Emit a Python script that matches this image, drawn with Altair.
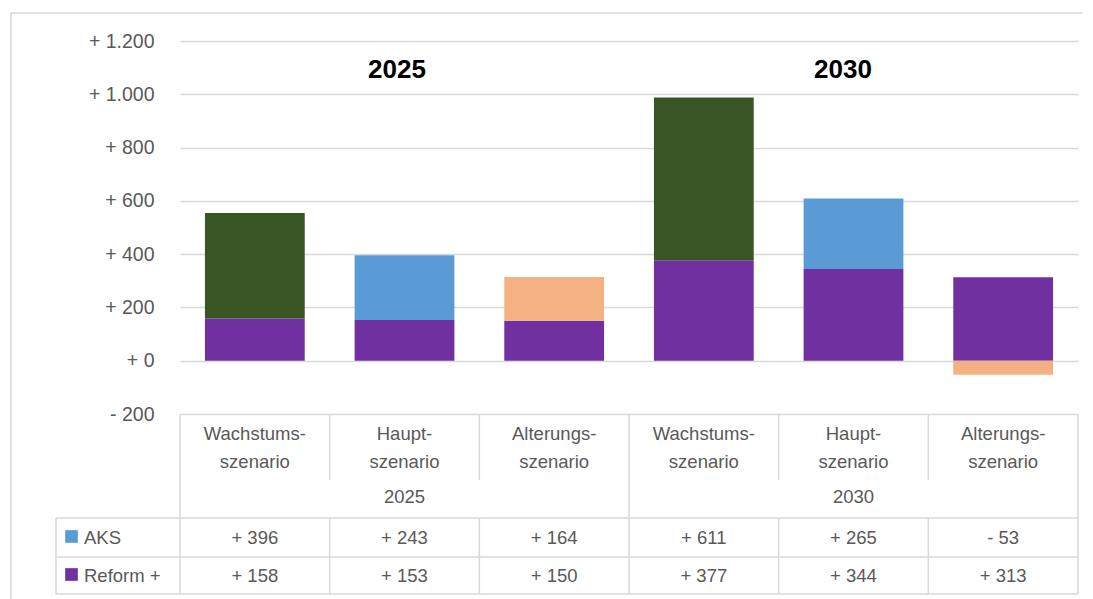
import altair as alt
import pandas as pd

# ---------------- data ----------------
years = ["2025", "2025", "2025", "2030", "2030", "2030"]
scen_keys = ["Wachstum", "Haupt", "Alterung", "Wachstum", "Haupt", "Alterung"]
scen_labels = ["Wachstums-\nszenario", "Haupt-\nszenario", "Alterungs-\nszenario",
               "Wachstums-\nszenario", "Haupt-\nszenario", "Alterungs-\nszenario"]
aks = [396, 243, 164, 611, 265, -53]
reform = [158, 153, 150, 377, 344, 313]
series_names = ["AKS", "Reform +"]
y_ticks = [-200, 0, 200, 400, 600, 800, 1000, 1200]
year_groups = ["2025", "2030"]

color_domain = ["Reform +", "AKS Wachstum", "AKS Haupt", "AKS Alterung"]
color_range = ["#7030A0", "#375623", "#5B9BD5", "#F4B183"]
legend_colors = ["#5B9BD5", "#7030A0"]

keys = [f"{y} {s}" for y, s in zip(years, scen_keys)]

rows = []
for k, s, r, a in zip(keys, scen_keys, reform, aks):
    rows.append({"key": k, "series": "Reform +", "ord": 0, "value": r, "ck": "Reform +"})
    rows.append({"key": k, "series": "AKS", "ord": 1, "value": a, "ck": "AKS " + s})
bars_df = pd.DataFrame(rows)

tab_df = pd.DataFrame({"key": keys, "label": scen_labels})
year_df = pd.DataFrame({"year": years, "col": [i + 0.5 for i in range(len(keys))]}) \
    .groupby("year", as_index=False)["col"].mean()

# ---------------- layout (pixels) ----------------
W, H = 898, 560
PLOT_H = 373
YMAX, YMIN_AX = 1200, -200
ymin = YMAX - H * (YMAX - YMIN_AX) / PLOT_H

# table row lines (plot pixel coordinates)
Y_SUB = 439      # end of inner separators in category row
Y_R1 = 477       # top of AKS row
Y_R2 = 516       # top of Reform row
Y_R3 = 553       # table bottom

GRID = "#D9D9D9"
TXT = "#595959"
FONT = "Liberation Sans"

xband = alt.Scale(domain=keys, paddingInner=1 / 3, paddingOuter=1 / 6)
xq = alt.Scale(domain=[0, len(keys)], nice=False, zero=False)
one = pd.DataFrame({"k": [0]})

label_expr = "(datum.value < 0 ? '- ' : '+ ') + replace(format(abs(datum.value), ','), ',', '.')"

bars = alt.Chart(bars_df).mark_bar().encode(
    x=alt.X("key:N", scale=xband, axis=None),
    y=alt.Y("value:Q", stack="zero",
            scale=alt.Scale(domain=[ymin, YMAX], nice=False, zero=False),
            axis=alt.Axis(values=y_ticks, grid=True, gridColor=GRID, gridWidth=1.3,
                          ticks=False, domain=False, labelPadding=26,
                          labelFontSize=19.5, labelColor=TXT, labelFont=FONT,
                          labelExpr=label_expr, title=None)),
    color=alt.Color("ck:N", scale=alt.Scale(domain=color_domain, range=color_range), legend=None),
    order=alt.Order("ord:Q"),
)


def hrule(y, x1, x2):
    return alt.Chart(one).mark_rule(color=GRID, strokeWidth=1.5).encode(
        x=alt.value(x1), x2=alt.value(x2), y=alt.value(y))


def vrules(cols, y1, y2):
    return alt.Chart(pd.DataFrame({"col": cols})).mark_rule(color=GRID, strokeWidth=1.5).encode(
        x=alt.X("col:Q", scale=xq, axis=None), y=alt.value(y1), y2=alt.value(y2))


layers = [bars]

# outer chart frame
layers.append(alt.Chart(one).mark_rect(filled=False, stroke=GRID, strokeWidth=1.5).encode(
    x=alt.value(-169), x2=alt.value(1000), y=alt.value(-28), y2=alt.value(700)))

# table lines
layers += [hrule(Y_R1, -124, W), hrule(Y_R2, -124, W), hrule(Y_R3, -124, W)]
layers.append(vrules([0, 3, 6], PLOT_H, Y_R3))
layers.append(vrules([1, 2, 4, 5], PLOT_H, Y_SUB))
layers.append(vrules([1, 2, 4, 5], Y_R1, Y_R3))
layers.append(alt.Chart(one).mark_rule(color=GRID, strokeWidth=1.5).encode(
    x=alt.value(-124), y=alt.value(Y_R1), y2=alt.value(Y_R3)))

# category labels (first line centre)
layers.append(alt.Chart(tab_df).mark_text(
    lineBreak="\n", lineHeight=28, fontSize=18.5, color=TXT, font=FONT, baseline="middle").encode(
    x=alt.X("key:N", scale=xband, axis=None), y=alt.value(393), text="label:N"))

# year row
layers.append(alt.Chart(year_df).mark_text(
    fontSize=18.5, color=TXT, font=FONT, baseline="middle").encode(
    x=alt.X("col:Q", scale=xq, axis=None), y=alt.value(456), text="year:N"))

# value rows + legend
val_expr = "(datum.value < 0 ? '- ' : '+ ') + format(abs(datum.value), 'd')"
row_y = {"AKS": (Y_R1 + Y_R2) / 2, "Reform +": (Y_R2 + Y_R3) / 2}
for name, col in zip(series_names, legend_colors):
    d = bars_df[bars_df["series"] == name]
    layers.append(alt.Chart(d).mark_text(
        fontSize=18.5, color=TXT, font=FONT, baseline="middle").transform_calculate(
        lab=val_expr).encode(
        x=alt.X("key:N", scale=xband, axis=None), y=alt.value(row_y[name]), text="lab:N"))
    layers.append(alt.Chart(one).mark_square(size=160, filled=True, opacity=1, color=col).encode(
        x=alt.value(-108.5), y=alt.value(row_y[name] - 1)))
    layers.append(alt.Chart(pd.DataFrame({"t": [name]})).mark_text(
        fontSize=18.5, color=TXT, font=FONT, baseline="middle", align="left").encode(
        x=alt.value(-96), y=alt.value(row_y[name]), text="t:N"))

# bold year headers in plot
for yr, xp in zip(year_groups, [217, 663]):
    layers.append(alt.Chart(pd.DataFrame({"t": [yr]})).mark_text(
        fontSize=26, fontWeight="bold", color="#000000", font=FONT, baseline="middle").encode(
        x=alt.value(xp), y=alt.value(29), text="t:N"))

chart = alt.layer(*layers).resolve_scale(x="independent").properties(
    width=W, height=H,
    padding={"left": 172, "top": 33, "right": 5, "bottom": 0},
    autosize=alt.AutoSizeParams(type="none"),
    background="white",
).configure_view(stroke=None)

chart.save("out.html", embed_options={"renderer": "svg", "actions": False})
